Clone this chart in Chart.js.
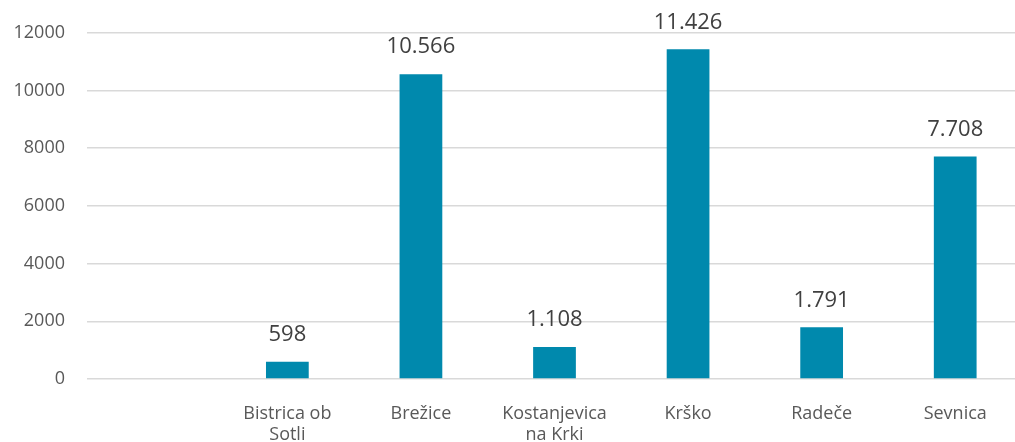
<!DOCTYPE html>
<html>
<head>
<meta charset="utf-8">
<script src="https://cdn.jsdelivr.net/npm/chart.js@4.4.1/dist/chart.umd.min.js"></script>
<style>
html,body{margin:0;padding:0;background:#fff;overflow:hidden;}
#wrap{width:1022px;height:442px;position:relative;}
</style>
</head>
<body>
<div id="wrap"><canvas id="c"></canvas></div>
<script>
const categories = ['', ['Bistrica ob','Sotli'], 'Brežice', ['Kostanjevica','na Krki'], 'Krško', 'Radeče', 'Sevnica'];
const values = [null, 598, 10566, 1108, 11426, 1791, 7708];
const yTicks = [0, 2000, 4000, 6000, 8000, 10000, 12000];

function fmt(v){ return v.toString().replace(/\B(?=(\d{3})+(?!\d))/g, '.'); }

const labelPlugin = {
  id: 'valueLabels',
  afterDatasetsDraw(chart){
    const ctx = chart.ctx;
    const meta = chart.getDatasetMeta(0);
    ctx.save();
    ctx.font = '22px "Open Sans"';
    ctx.fillStyle = '#404040';
    ctx.textAlign = 'center';
    ctx.textBaseline = 'bottom';
    meta.data.forEach((bar, i) => {
      const v = values[i];
      if (v === null || v === undefined) return;
      ctx.fillText(fmt(v), bar.x, bar.y - 16);
    });
    ctx.restore();
  }
};

new Chart(document.getElementById('c'), {
  type: 'bar',
  data: {
    labels: categories,
    datasets: [{
      data: values,
      backgroundColor: '#0089AD',
      borderWidth: 0,
      categoryPercentage: 1,
      barPercentage: 0.32
    }]
  },
  options: {
    responsive: true,
    maintainAspectRatio: false,
    animation: false,
    layout: { padding: { top: 31, right: 0, left: 0, bottom: 0 } },
    plugins: { legend: { display: false }, tooltip: { enabled: false } },
    scales: {
      x: {
        grid: { display: false, drawTicks: false },
        border: { display: false },
        ticks: { color: '#595959', font: { family: '"Open Sans"', size: 18, lineHeight: 1.15 }, padding: 25, maxRotation: 0, autoSkip: false },
        afterFit(s){ s.height = 63; }
      },
      y: {
        min: 0, max: 12000,
        afterBuildTicks(s){ s.ticks = yTicks.map(v => ({ value: v })); },
        grid: { color: '#d9d9d9', lineWidth: 1.5, drawTicks: false },
        border: { display: false },
        ticks: { color: '#595959', font: { family: '"Open Sans"', size: 18 }, padding: 22, callback: v => String(v) },
        afterFit(s){ s.width = 87; }
      }
    }
  },
  plugins: [labelPlugin]
});
</script>
</body>
</html>
